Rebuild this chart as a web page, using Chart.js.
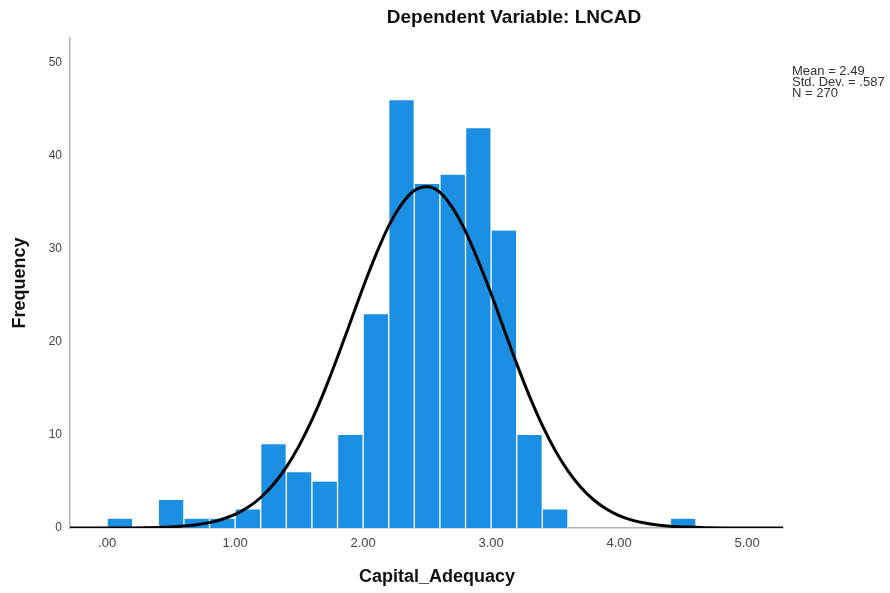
<!DOCTYPE html>
<html>
<head>
<meta charset="utf-8">
<script src="https://cdn.jsdelivr.net/npm/chart.js@4/dist/chart.umd.min.js"></script>
<style>
  html, body { margin: 0; padding: 0; background: #fff; }
  #wrap { width: 890px; height: 593px; }
</style>
</head>
<body>
<div id="wrap"><canvas id="histChart" width="890" height="593"></canvas></div>
<script>
// histogram bins (width .20), centres + counts
var binCenters = [0.1, 0.3, 0.5, 0.7, 0.9, 1.1, 1.3, 1.5, 1.7, 1.9, 2.1, 2.3, 2.5, 2.7, 2.9, 3.1, 3.3, 3.5, 3.7, 3.9, 4.1, 4.3, 4.5];
var binCounts  = [1, 0, 3, 1, 1, 2, 9, 6, 5, 10, 23, 46, 37, 38, 43, 32, 10, 2, 0, 0, 0, 0, 1];

// normal curve
var curveX = [-0.29, 0.0, 0.3, 0.5, 0.6, 0.7, 0.8, 0.9, 1.0, 1.1, 1.2, 1.3, 1.4, 1.5, 1.6, 1.7, 1.8, 1.9, 2.0, 2.1, 2.2, 2.3, 2.4, 2.5, 2.6, 2.7, 2.8, 2.9, 3.0, 3.1, 3.2, 3.3, 3.4, 3.5, 3.6, 3.7, 3.8, 3.9, 4.0, 4.1, 4.2, 4.3, 4.4, 4.7, 5.0, 5.28];
var curveY = [0, 0, 0.03, 0.12, 0.21, 0.35, 0.58, 0.94, 1.46, 2.22, 3.28, 4.7, 6.54, 8.86, 11.62, 14.83, 18.39, 22.14, 25.9, 29.4, 32.5, 34.8, 36.3, 36.7, 36.1, 34.4, 31.9, 28.7, 25.2, 21.4, 17.65, 14.16, 11.03, 8.35, 6.14, 4.38, 3.04, 2.05, 1.34, 0.85, 0.53, 0.32, 0.18, 0.03, 0, 0];

var xTicks = [0, 1, 2, 3, 4, 5];
var yTicks = [0, 10, 20, 30, 40, 50];
var statLines = ["Mean = 2.49", "Std. Dev. = .587", "N = 270"];
var chartTitle = "Dependent Variable: LNCAD";

var FONT = "'Liberation Sans', Arial, sans-serif";

function pairs(xs, ys) {
    var out = [];
    for (var i = 0; i < xs.length; i++) out.push({ x: xs[i], y: ys[i] });
    return out;
}

// title, stats box and x title are drawn by hand, SPSS style
var extrasPlugin = {
    id: 'extras',
    afterDraw: function (chart) {
        var ctx = chart.ctx;
        ctx.save();
        ctx.fillStyle = '#111';
        ctx.font = 'bold 19px ' + FONT;
        ctx.textAlign = 'center';
        ctx.textBaseline = 'middle';
        ctx.fillText(chartTitle, 514, 18);

        ctx.font = 'bold 18px ' + FONT;
        ctx.fillText('Capital_Adequacy', 437, 577);

        ctx.font = '13px ' + FONT;
        ctx.textAlign = 'left';
        ctx.fillStyle = '#333';
        for (var i = 0; i < statLines.length; i++) {
            ctx.fillText(statLines[i], 792, 71 + i * 11);
        }
        ctx.restore();
    }
};

new Chart(document.getElementById('histChart'), {
    data: {
        datasets: [
            {
                type: 'line',
                data: pairs(curveX, curveY),
                borderColor: '#000',
                borderWidth: 3,
                pointRadius: 0,
                cubicInterpolationMode: 'monotone',
                fill: false,
                order: 0
            },
            {
                type: 'bar',
                data: pairs(binCenters, binCounts),
                backgroundColor: '#1A8FE3',
                borderColor: '#ffffff',
                borderWidth: { left: 1, right: 1, top: 0, bottom: 0 },
                borderSkipped: false,
                barPercentage: 1.0,
                categoryPercentage: 1.0,
                grouped: false,
                order: 1
            }
        ]
    },
    options: {
        responsive: false,
        animation: false,
        layout: { padding: { top: 38, right: 107, left: 0, bottom: 0 } },
        plugins: {
            legend: { display: false },
            tooltip: { enabled: false }
        },
        scales: {
            x: {
                type: 'linear',
                offset: false,
                min: -0.29,
                max: 5.28,
                afterBuildTicks: function (s) { s.ticks = xTicks.map(function (v) { return { value: v }; }); },
                afterFit: function (s) { s.height = 65; },
                grid: { display: false, drawTicks: false },
                border: { display: true, color: '#b5b5b5', width: 1.5 },
                ticks: {
                    color: '#444',
                    font: { family: FONT, size: 13 },
                    padding: 8,
                    callback: function (v) { return v === 0 ? '.00' : v.toFixed(2); }
                },
                title: { display: false }
            },
            y: {
                type: 'linear',
                min: 0,
                max: 52.7,
                afterBuildTicks: function (s) { s.ticks = yTicks.map(function (v) { return { value: v }; }); },
                afterFit: function (s) { s.width = 70; },
                grid: { display: false, drawTicks: false },
                border: { display: true, color: '#b5b5b5', width: 1.5 },
                ticks: {
                    color: '#444',
                    font: { family: FONT, size: 12 },
                    padding: 8
                },
                title: {
                    display: true,
                    text: 'Frequency',
                    color: '#111',
                    font: { family: FONT, size: 18, weight: 'bold' },
                    padding: { top: 9, bottom: 0 }
                }
            }
        }
    },
    plugins: [extrasPlugin]
});
</script>
</body>
</html>
